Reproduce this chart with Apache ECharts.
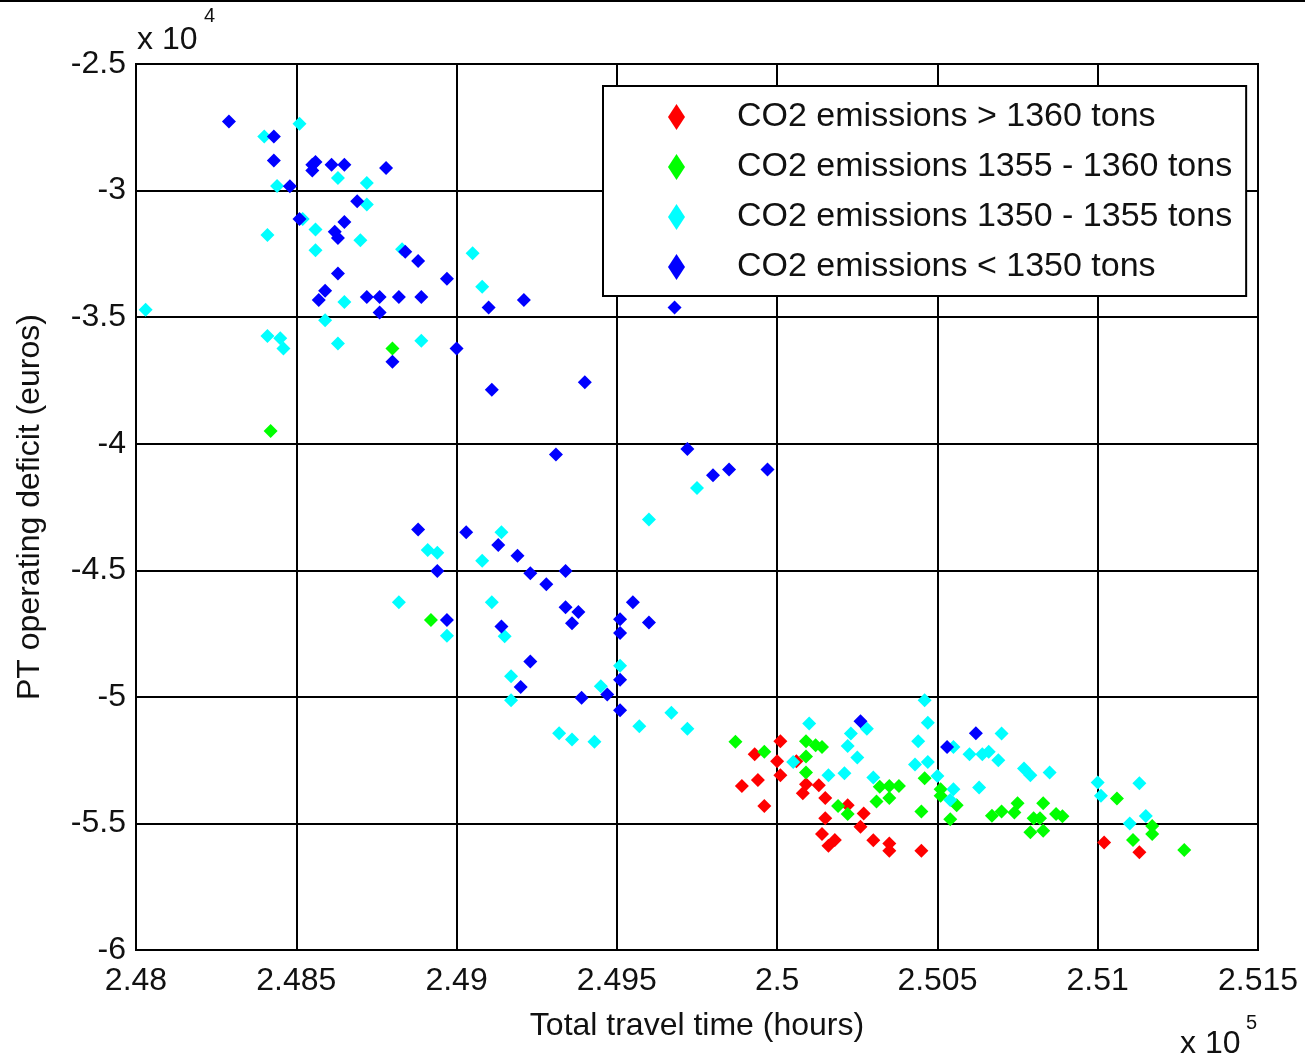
<!DOCTYPE html>
<html>
<head>
<meta charset="utf-8">
<script src="https://cdn.jsdelivr.net/npm/echarts@6/dist/echarts.min.js"></script>
<style>
html,body{margin:0;padding:0;background:#fff;}
#chart{width:1305px;height:1060px;}
</style>
</head>
<body>
<div id="chart"></div>
<script>
// Total travel time (hours), PT operating deficit (euros)
const seriesNames = [
  'CO2 emissions > 1360 tons',
  'CO2 emissions 1355 - 1360 tons',
  'CO2 emissions 1350 - 1355 tons',
  'CO2 emissions < 1350 tons'
];
const seriesColors = ['#ff0000', '#00ff00', '#00ffff', '#0000ff'];

const redPts = [
  [250010,-51750],[249930,-52270],[250000,-52540],[250010,-53100],[249940,-53280],
  [249890,-53520],[249960,-54310],[250060,-52540],[250090,-53450],[250080,-53810],
  [250130,-53490],[250150,-54000],[250220,-54280],[250150,-54800],[250140,-55420],
  [250180,-55650],[250160,-55880],[250270,-54610],[250260,-55130],[250300,-55660],
  [250350,-55790],[250350,-56080],[250450,-56080],[251020,-55750],[251130,-56140]
];
const greenPts = [
  [248800,-36240],[248420,-39500],[248920,-46960],[249870,-51770],[249960,-52170],
  [250090,-51750],[250120,-51910],[250140,-51980],[250090,-52360],[250090,-52990],
  [250190,-54310],[250220,-54630],[250320,-53550],[250350,-53520],[250380,-53520],
  [250310,-54130],[250350,-54000],[250460,-53220],[250450,-54530],[250510,-53650],
  [250510,-53910],[250540,-54830],[250560,-54280],[250670,-54700],[250700,-54530],
  [250750,-54200],[250740,-54570],[250830,-54200],[250800,-54800],[250820,-54800],
  [250790,-55350],[250830,-55290],[250870,-54630],[250890,-54720],[251060,-54020],
  [251170,-55100],[251170,-55420],[251110,-55650],[251270,-56050]
];
const cyanPts = [
  [248510,-27360],[248400,-27860],[248440,-29820],[248630,-29500],[248720,-29700],
  [248720,-30550],[248520,-31120],[248560,-31540],[248410,-31760],[248700,-31960],
  [248560,-32360],[248830,-32320],[248650,-34400],[248030,-34710],[248590,-35120],
  [248410,-35740],[248450,-35830],[248460,-36240],[248630,-36040],[248890,-35930],
  [249050,-32480],[249080,-33800],[249750,-41750],[249140,-43500],[248910,-44200],
  [248940,-44310],[249080,-44620],[249600,-42990],[248820,-46260],[248970,-47590],
  [249110,-46260],[249150,-47610],[249170,-49190],[249170,-50130],[249450,-49580],
  [249510,-48770],[249670,-50630],[249570,-51160],[249720,-51260],[249320,-51440],
  [249360,-51680],[249430,-51770],[250050,-52570],[250100,-51050],[250160,-53100],
  [250210,-53020],[250230,-51450],[250220,-51940],[250250,-52400],[250280,-51260],
  [250300,-53190],[250460,-50130],[250470,-51020],[250440,-51750],[250430,-52670],
  [250470,-52570],[250500,-53130],[250550,-53650],[250540,-54070],[250550,-51980],
  [250700,-51450],[250600,-52270],[250640,-52270],[250660,-52170],[250690,-52500],
  [250630,-53580],[250770,-52830],[250790,-53100],[250850,-52990],[251000,-53380],
  [251010,-53910],[251130,-53410],[251100,-55000],[251150,-54710]
];
const bluePts = [
  [248290,-27270],[248430,-27860],[248430,-28810],[248480,-29830],[248550,-28980],
  [248560,-28870],[248550,-29210],[248610,-28980],[248650,-28980],[248780,-29110],
  [248690,-30420],[248510,-31120],[248650,-31240],[248620,-31630],[248630,-31870],
  [248630,-33280],[248840,-32420],[248880,-32780],[248970,-33480],[248590,-33960],
  [248570,-34320],[248720,-34200],[248760,-34200],[248760,-34820],[248820,-34200],
  [248890,-34200],[248800,-36760],[249000,-36240],[249100,-34620],[249210,-34320],
  [249680,-34620],[249110,-37870],[249400,-37570],[249310,-40430],[249720,-40210],
  [249800,-41250],[249850,-41020],[249970,-41020],[248880,-43390],[249030,-43500],
  [249130,-44000],[249190,-44430],[248940,-45030],[249230,-45120],[249340,-45030],
  [249280,-45550],[248970,-46960],[249140,-47220],[249340,-46460],[249380,-46650],
  [249360,-47090],[249550,-46260],[249510,-46930],[249510,-47480],[249600,-47060],
  [249230,-48600],[249200,-49610],[249390,-50040],[249470,-49910],[249510,-49320],
  [249510,-50530],[250260,-50960],[250530,-51980],[250620,-51440]
];
const seriesData = [redPts, greenPts, cyanPts, bluePts];

const xMin = 248000, xMax = 251500, xStep = 500;
const yMin = -60000, yMax = -25000, yStep = 5000;
const xLabel = 'Total travel time (hours)';
const yLabel = 'PT operating deficit (euros)';

const FONT = '"Liberation Sans", Arial, Helvetica, sans-serif';
const fmt = (v, s) => String(parseFloat((v / s).toFixed(5)));

const chart = echarts.init(document.getElementById('chart'), null, {renderer: 'canvas'});
chart.setOption({
  animation: false,
  backgroundColor: '#ffffff',
  textStyle: {fontFamily: FONT},
  grid: {left: 136, right: 47, top: 64, bottom: 110, show: true,
         borderColor: '#000', borderWidth: 2, backgroundColor: 'transparent'},
  xAxis: {
    type: 'value', min: xMin, max: xMax, interval: xStep,
    name: xLabel, nameLocation: 'middle', nameGap: 60,
    nameTextStyle: {fontSize: 32, color: '#111', fontFamily: FONT},
    axisLine: {show: true, lineStyle: {color: '#000', width: 2}},
    axisTick: {show: true, inside: true, length: 6, lineStyle: {color: '#000', width: 2}},
    axisLabel: {fontSize: 32, color: '#111', margin: 15, fontFamily: FONT,
                formatter: v => fmt(v, 1e5)},
    splitLine: {show: true, lineStyle: {color: '#000', width: 2}}
  },
  yAxis: {
    type: 'value', min: yMin, max: yMax, interval: yStep,
    name: yLabel, nameLocation: 'middle', nameGap: 90,
    nameTextStyle: {fontSize: 32, color: '#111', fontFamily: FONT},
    axisLine: {show: true, lineStyle: {color: '#000', width: 2}},
    axisTick: {show: true, inside: true, length: 6, lineStyle: {color: '#000', width: 2}},
    axisLabel: {fontSize: 32, color: '#111', margin: 10, fontFamily: FONT,
                formatter: v => fmt(v, 1e4)},
    splitLine: {show: true, lineStyle: {color: '#000', width: 2}}
  },
  legend: {
    left: 603, top: 86, orient: 'vertical',
    backgroundColor: '#fff', borderColor: '#000', borderWidth: 2,
    padding: [14, 14, 12, 65],
    itemGap: 16, itemWidth: 17, itemHeight: 26, icon: 'diamond',
    textStyle: {fontSize: 34, color: '#111', fontFamily: FONT, lineHeight: 30,
                padding: [0, 0, 0, 47]},
    data: seriesNames
  },
  graphic: [
    {type: 'rect', left: 0, top: 0, shape: {width: 1305, height: 2}, style: {fill: '#000'}},
    {type: 'text', x: 137, y: 40, style: {text: 'x 10', font: '32px ' + FONT, fill: '#111', textVerticalAlign: 'middle'}},
    {type: 'text', x: 204, y: 16, style: {text: '4', font: '20px ' + FONT, fill: '#111', textVerticalAlign: 'middle'}},
    {type: 'text', x: 1180, y: 1044, style: {text: 'x 10', font: '32px ' + FONT, fill: '#111', textVerticalAlign: 'middle'}},
    {type: 'text', x: 1246, y: 1023, style: {text: '5', font: '20px ' + FONT, fill: '#111', textVerticalAlign: 'middle'}}
  ],
  series: seriesNames.map((n, i) => ({
    name: n, type: 'scatter', symbol: 'diamond', symbolSize: 14,
    itemStyle: {color: seriesColors[i], opacity: 1},
    data: seriesData[i]
  }))
});
</script>
</body>
</html>
